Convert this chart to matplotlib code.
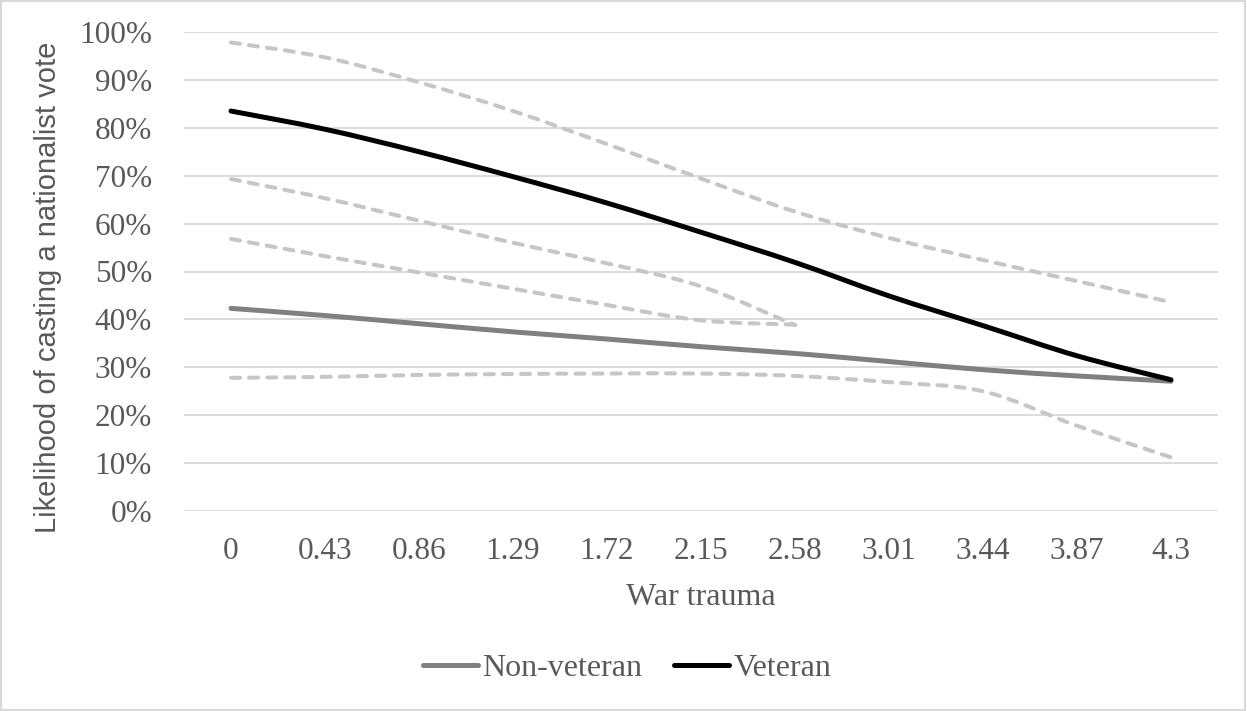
import matplotlib
matplotlib.use("Agg")
import matplotlib.pyplot as plt
from matplotlib.path import Path
from matplotlib.patches import PathPatch, Rectangle
from matplotlib.lines import Line2D

# data (likelihood in %)
trauma = ["0", "0.43", "0.86", "1.29", "1.72", "2.15", "2.58", "3.01", "3.44", "3.87", "4.3"]
veteran = [83.5, 79.7, 75.0, 69.8, 64.3, 58.2, 51.9, 44.9, 38.7, 32.4, 27.4]
non_veteran = [42.3, 40.8, 39.1, 37.4, 35.9, 34.3, 32.9, 31.2, 29.5, 28.2, 27.1]
vet_upper = [97.8, 94.7, 89.5, 83.5, 76.6, 69.4, 62.5, 57.0, 52.4, 48.0, 43.6]
vet_lower = [69.3, 65.3, 60.6, 56.0, 51.7, 46.9, 38.8]
nonvet_upper = [56.8, 53.2, 49.8, 46.4, 43.0, 39.8, 38.9]
nonvet_lower = [27.8, 28.0, 28.4, 28.6, 28.7, 28.7, 28.2, 26.9, 25.0, 17.8, 11.2]

TXT = "#595959"
SERIF = ["Liberation Serif", "DejaVu Serif"]
SANS = ["Liberation Sans", "DejaVu Sans"]


def smooth_path(vals):
    # excel style smoothed line: bezier segments through the points
    pts = [(i, v / 100) for i, v in enumerate(vals)]
    n = len(pts)
    verts = [pts[0]]
    codes = [Path.MOVETO]
    for i in range(n - 1):
        p0 = pts[i - 1] if i > 0 else pts[i]
        p1, p2 = pts[i], pts[i + 1]
        p3 = pts[i + 2] if i + 2 < n else pts[i + 1]
        c1 = (p1[0] + (p2[0] - p0[0]) / 6, p1[1] + (p2[1] - p0[1]) / 6)
        c2 = (p2[0] - (p3[0] - p1[0]) / 6, p2[1] - (p3[1] - p1[1]) / 6)
        verts += [c1, c2, p2]
        codes += [Path.CURVE4] * 3
    return Path(verts, codes)


fig = plt.figure(figsize=(12.47, 7.11), dpi=100)
ax = fig.add_axes([184 / 1247, 1 - 511 / 711, 1034 / 1247, 479 / 711])

for s in ax.spines.values():
    s.set_visible(False)
ax.set_xlim(-0.5, len(trauma) - 0.5)
ax.set_ylim(0, 1)
ax.set_yticks([i / 10 for i in range(11)])
ax.set_yticklabels([f"{i * 10}%" for i in range(11)])
ax.set_xticks(range(len(trauma)))
ax.set_xticklabels(trauma)
ax.grid(axis="y", color="#d9d9d9", linewidth=1.3)
ax.set_axisbelow(True)
ax.tick_params(length=0, labelsize=22.5, labelcolor=TXT)
ax.tick_params(axis="x", pad=19)
ax.tick_params(axis="y", pad=23)
for lab in ax.get_xticklabels() + ax.get_yticklabels():
    lab.set_family(SERIF)

# confidence bounds
for vals in [vet_upper, vet_lower, nonvet_upper, nonvet_lower]:
    ax.add_patch(PathPatch(smooth_path(vals), fill=False, edgecolor="#c6c6c6",
                           linewidth=2.9, linestyle=(0, (2.25, 2.25)),
                           capstyle="round", zorder=2))

ax.add_patch(PathPatch(smooth_path(non_veteran), fill=False, edgecolor="#808080",
                       linewidth=3.6, capstyle="round", zorder=3))
ax.add_patch(PathPatch(smooth_path(veteran), fill=False, edgecolor="black",
                       linewidth=3.6, capstyle="round", zorder=4))

ax.set_xlabel("War trauma", fontsize=23, color=TXT, family=SERIF)
ax.xaxis.set_label_coords(0.5, -0.15)
ax.set_ylabel("Likelihood of casting a nationalist vote", fontsize=21, color=TXT, family=SANS)
ax.yaxis.set_label_coords(-0.118, 0.466)

handles = [Line2D([], [], color="#808080", linewidth=3.6, solid_capstyle="round"),
           Line2D([], [], color="black", linewidth=3.6, solid_capstyle="round")]
fig.legend(handles, ["Non-veteran", "Veteran"], loc="center", bbox_to_anchor=(0.503, 1 - 668 / 711),
           ncol=2, frameon=False, prop={"family": SERIF, "size": 23}, labelcolor=TXT,
           handlelength=1.7, handletextpad=0.15, columnspacing=1.0)

fig.patches.append(Rectangle((0.001, 0.002), 0.997, 0.996, transform=fig.transFigure,
                             fill=False, edgecolor="#d9d9d9", linewidth=1.5))

fig.savefig("out.png", dpi=100)
